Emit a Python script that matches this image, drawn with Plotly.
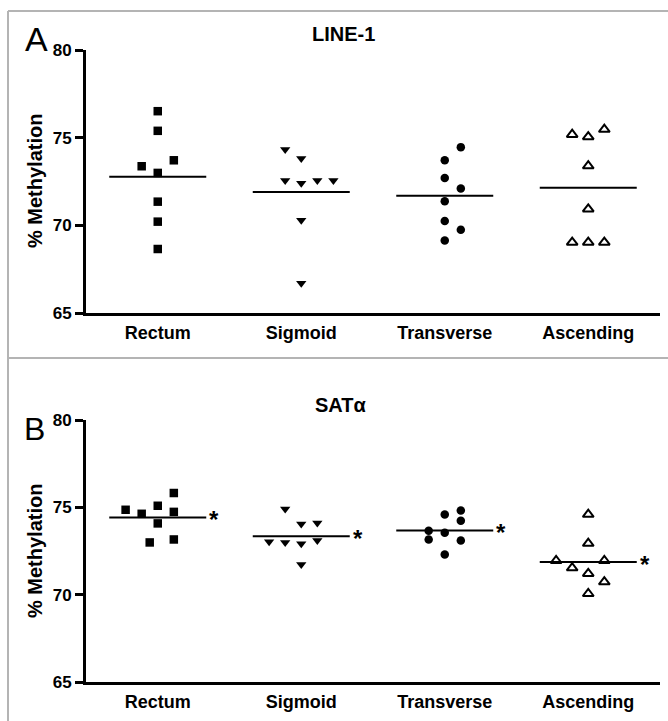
import numpy as np
import plotly.graph_objects as go

categories = ["Rectum", "Sigmoid", "Transverse", "Ascending"]
y_ticks = [65, 70, 75, 80]

# Panel A: LINE-1 (% methylation)
line1_rectum = [76.51, 75.39, 73.37, 73.71, 72.99, 71.35, 70.21, 68.65]
line1_sigmoid = [74.32, 73.81, 72.55, 72.40, 72.55, 72.55, 70.29, 66.70]
line1_transverse = [74.46, 73.71, 72.70, 72.10, 71.37, 70.25, 69.75, 69.14]
line1_ascending = [75.18, 75.05, 75.47, 73.39, 70.93, 69.03, 69.03, 69.03]

# Panel B: SAT alpha (% methylation)
sat_rectum = [74.86, 74.63, 75.09, 75.82, 74.74, 74.08, 72.99, 73.16]
sat_sigmoid = [74.90, 74.04, 74.11, 73.03, 72.99, 72.91, 73.10, 71.73]
sat_transverse = [74.59, 74.82, 74.23, 73.66, 73.54, 73.16, 73.10, 72.30]
sat_ascending = [74.59, 72.93, 71.95, 71.95, 71.53, 71.21, 70.73, 70.06]

# column-scatter offsets (in marker steps) to avoid overlap
off_line1_rectum = [0, 0, -1, 1, 0, 0, 0, 0]
off_line1_sigmoid = [-1, 0, -1, 0, 1, 2, 0, 0]
off_line1_transverse = [1, 0, 0, 1, 0, 0, 1, 0]
off_line1_ascending = [-1, 0, 1, 0, 0, -1, 0, 1]
off_sat_rectum = [-2, -1, 0, 1, 1, 0, -0.5, 1]
off_sat_sigmoid = [-1, 0, 1, -2, -1, 0, 1, 0]
off_sat_transverse = [0, 1, 1, -1, 0, -1, 1, 0]
off_sat_ascending = [0, 0, -2, 1, -1, 0, 1, 0]

STEP = 0.112
HALF = 0.338
FONT = "Liberation Sans, Arial, sans-serif"
W, H = 668, 721

markers = [
    dict(symbol="square", size=8.5, color="black"),
    dict(symbol="triangle-down", size=9, color="black"),
    dict(symbol="circle", size=8.5, color="black"),
    dict(symbol="triangle-up-open", size=9.5, color="black", line=dict(width=2, color="black")),
]

fig = go.Figure()

panels = [
    ("", [line1_rectum, line1_sigmoid, line1_transverse, line1_ascending],
     [off_line1_rectum, off_line1_sigmoid, off_line1_transverse, off_line1_ascending]),
    ("2", [sat_rectum, sat_sigmoid, sat_transverse, sat_ascending],
     [off_sat_rectum, off_sat_sigmoid, off_sat_transverse, off_sat_ascending]),
]

for suffix, series, offsets in panels:
    xa = "x" + suffix
    ya = "y" + suffix
    for i, (vals, offs) in enumerate(zip(series, offsets)):
        xs = [i + o * STEP for o in offs]
        fig.add_trace(go.Scatter(x=xs, y=vals, mode="markers", marker=markers[i],
                                 xaxis=xa, yaxis=ya, showlegend=False, cliponaxis=False))
        m = float(np.mean(vals))
        fig.add_trace(go.Scatter(x=[i - HALF, i + HALF], y=[m, m], mode="lines",
                                 line=dict(color="black", width=2),
                                 xaxis=xa, yaxis=ya, showlegend=False))

axis_common = dict(showline=True, linewidth=3, linecolor="black", showgrid=False,
                   zeroline=False, mirror=False, automargin=False)

xdom = [86 / W, 660 / W]
xfont = dict(size=18, weight="bold", family=FONT)
yfont = dict(size=17, weight="bold", family=FONT)
fig.update_layout(
    width=W, height=H,
    margin=dict(l=0, r=0, t=0, b=0),
    paper_bgcolor="white", plot_bgcolor="white",
    font=dict(family=FONT, color="black"),
    xaxis=dict(domain=xdom, range=[-0.5, 3.5], tickvals=[0, 1, 2, 3], ticktext=categories,
               ticks="", ticklabelstandoff=1, anchor="y", tickfont=xfont, **axis_common),
    yaxis=dict(domain=[1 - 313 / H, 1 - 50 / H], range=[65, 80], tickvals=y_ticks,
               ticks="outside", ticklen=8, tickwidth=3, tickcolor="black", anchor="x",
               tickfont=yfont, **axis_common),
    xaxis2=dict(domain=xdom, range=[-0.5, 3.5], tickvals=[0, 1, 2, 3], ticktext=categories,
                ticks="", ticklabelstandoff=1, anchor="y2", tickfont=xfont, **axis_common),
    yaxis2=dict(domain=[1 - 682 / H, 1 - 420 / H], range=[65, 80], tickvals=y_ticks,
                ticks="outside", ticklen=8, tickwidth=3, tickcolor="black", anchor="x2",
                tickfont=yfont, **axis_common),
)

# asterisks for panel B
for i in range(4):
    m = float(np.mean(panels[1][1][i]))
    fig.add_annotation(x=i + HALF, y=m, xref="x2", yref="y2", text="*", showarrow=False,
                       xanchor="left", yanchor="middle", xshift=1, yshift=-2,
                       font=dict(size=24, weight="bold", family=FONT))


def pap_y(py):
    return 1 - py / H


# titles
fig.add_annotation(x=343 / W, y=pap_y(34), xref="paper", yref="paper", text="LINE-1",
                   showarrow=False, xanchor="center", yanchor="middle",
                   font=dict(size=20, weight="bold", family=FONT))
fig.add_annotation(x=341 / W, y=pap_y(405), xref="paper", yref="paper", text="SATα",
                   showarrow=False, xanchor="center", yanchor="middle",
                   font=dict(size=20, weight="bold", family=FONT))
# panel letters
fig.add_annotation(x=36 / W, y=pap_y(39), xref="paper", yref="paper", text="A",
                   showarrow=False, xanchor="center", yanchor="middle",
                   font=dict(size=34, family=FONT))
fig.add_annotation(x=34 / W, y=pap_y(429), xref="paper", yref="paper", text="B",
                   showarrow=False, xanchor="center", yanchor="middle",
                   font=dict(size=32, family=FONT))
# y-axis titles
for cy in (181, 551):
    fig.add_annotation(x=35 / W, y=pap_y(cy), xref="paper", yref="paper",
                       text="% Methylation", textangle=-90, showarrow=False,
                       xanchor="center", yanchor="middle",
                       font=dict(size=20, weight="bold", family=FONT))

# grey frame lines
frame = dict(color="#b4b4b4", width=2)
fig.add_shape(type="line", xref="paper", yref="paper", x0=8 / W, x1=8 / W,
              y0=pap_y(11), y1=0, line=frame)
fig.add_shape(type="line", xref="paper", yref="paper", x0=8 / W, x1=1,
              y0=pap_y(11), y1=pap_y(11), line=frame)
fig.add_shape(type="line", xref="paper", yref="paper", x0=8 / W, x1=1,
              y0=pap_y(358), y1=pap_y(358), line=frame)

fig.write_html("out.html", config={"displayModeBar": False},
               post_script="document.body.style.margin='0';document.body.style.overflow='hidden';")
